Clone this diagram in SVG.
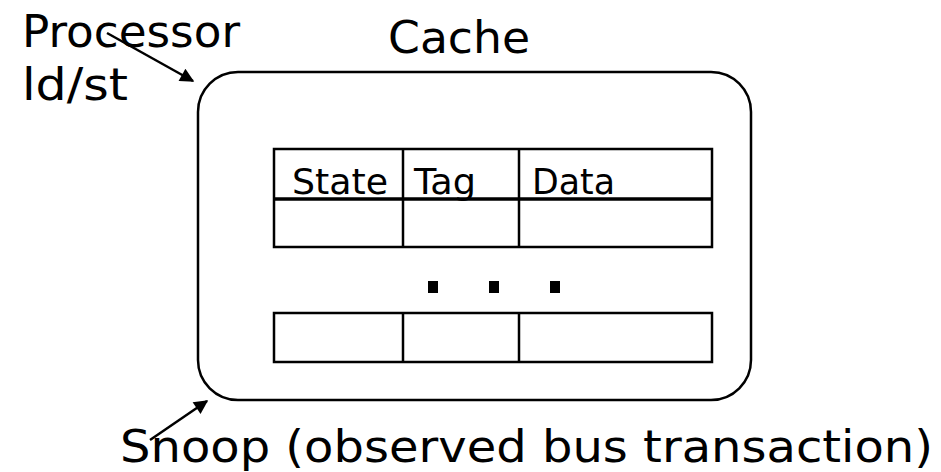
<svg xmlns="http://www.w3.org/2000/svg" width="941" height="472" viewBox="0 0 941 472">
<style>
.lbl{font-family:"DejaVu Sans",Verdana,sans-serif;font-size:44px;fill:#000}
.cell{font-family:"DejaVu Sans",Verdana,sans-serif;font-size:36px;fill:#000}
.ln{stroke:#000;stroke-width:2.5;fill:none}
.arr{stroke:#000;stroke-width:2.5;fill:none;marker-end:url(#ah)}
</style>
<defs>
<marker id="ah" viewBox="0 0 10 10" refX="9" refY="5" markerWidth="16" markerHeight="14" markerUnits="userSpaceOnUse" orient="auto">
<path d="M0,0 L10,5 L0,10 z" fill="#000"/>
</marker>
</defs>
<g id="labels">
<text class="lbl" x="22" y="47" textLength="218" lengthAdjust="spacingAndGlyphs">Processor</text>
<text class="lbl" x="22" y="100" textLength="106" lengthAdjust="spacingAndGlyphs">ld/st</text>
<text class="lbl" x="388" y="53" textLength="142" lengthAdjust="spacingAndGlyphs">Cache</text>
<text class="lbl" x="120" y="462" textLength="813" lengthAdjust="spacingAndGlyphs">Snoop (observed bus transaction)</text>
</g>
<g id="cache">
<rect class="ln" x="198" y="72" width="553" height="328" rx="40" ry="40"/>
</g>
<g id="table-top">
<rect class="ln" x="274" y="149" width="438" height="98"/>
<line class="ln" x1="274" y1="199" x2="712" y2="199" style="stroke-width:3.5"/>
<line class="ln" x1="403" y1="149" x2="403" y2="247"/>
<line class="ln" x1="519" y1="149" x2="519" y2="247"/>
<text class="cell" x="292" y="194" textLength="96" lengthAdjust="spacingAndGlyphs">State</text>
<text class="cell" x="414" y="194" textLength="62" lengthAdjust="spacingAndGlyphs">Tag</text>
<text class="cell" x="532" y="194" textLength="83" lengthAdjust="spacingAndGlyphs">Data</text>
</g>
<g id="dots">
<rect x="428" y="281" width="10" height="12" fill="#000"/>
<rect x="489" y="281" width="10" height="12" fill="#000"/>
<rect x="550" y="281" width="10" height="12" fill="#000"/>
</g>
<g id="table-bottom">
<rect class="ln" x="274" y="313" width="438" height="49"/>
<line class="ln" x1="403" y1="313" x2="403" y2="362"/>
<line class="ln" x1="519" y1="313" x2="519" y2="362"/>
</g>
<g id="connectors">
<line class="arr" x1="107" y1="33" x2="193" y2="81"/>
<line class="arr" x1="150" y1="440" x2="207" y2="401"/>
</g>
</svg>
